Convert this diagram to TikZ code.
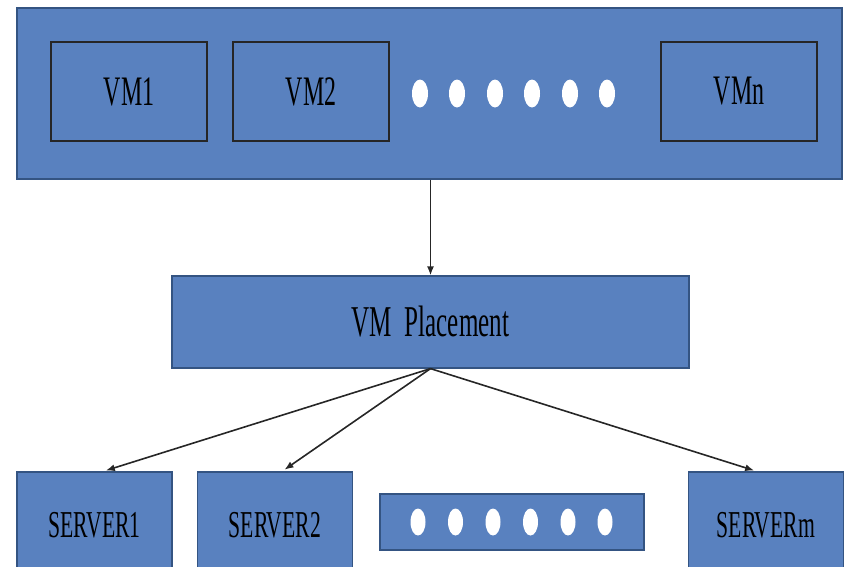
\documentclass[tikz,border=0pt]{standalone}
\usepackage{fontspec}
\setmainfont{Liberation Serif}[FakeStretch=0.57]
\usepackage{tikz}
\usetikzlibrary{arrows.meta}
\definecolor{boxblue}{RGB}{89,129,191}
\definecolor{edgeblue}{RGB}{52,84,130}

\begin{document}
\begin{tikzpicture}[x=1pt, y=-1pt,
  panel/.style={rectangle, draw=edgeblue, line width=1.2pt, fill=boxblue, inner sep=0pt},
  vmbox/.style={rectangle, draw=black!85, line width=1.6pt, minimum width=156pt,
                minimum height=99pt, font=\fontsize{42}{46}\selectfont},
  server/.style={panel, minimum width=155pt, minimum height=106pt,
                 font=\fontsize{38}{42}\selectfont},
  link/.style={-{Latex[length=9pt,width=7pt]}, line width=1.6pt, black!85}]
\useasboundingbox (0,0) rectangle (846,566);

% VM pool
\node[panel, minimum width=825pt, minimum height=171pt] (vms) at (429.5,93.5) {};
\node[vmbox] (vm1) at (129,91.5) {VM1};
\node[vmbox] (vm2) at (311,91.5) {VM2};
\node[vmbox] (vmn) at (739,91.5) {VMn};
\foreach \x in {420,457,495,532,570,607}
  \fill[white] (\x,93.5) ellipse [x radius=8pt, y radius=14pt];

% Placement
\node[panel, minimum width=517pt, minimum height=92pt,
      font=\fontsize{44}{48}\selectfont] (place) at (430.5,322) {VM\ \ Placement};

% Servers
\node[server] (srv1) at (94.5,525) {SERVER1};
\node[server] (srv2) at (275,525) {SERVER2};
\node[panel, minimum width=264pt, minimum height=56pt] (more) at (512,522) {};
\foreach \x in {418,455.5,493,530.5,568,605}
  \fill[white] (\x,522) ellipse [x radius=7.5pt, y radius=13.5pt];
\node[server] (srvm) at (766,525) {SERVERm};

% Arrows
\draw[link] (vms.south -| place.north) -- (place.north);
\draw[link, shorten >=3pt] (place.south) -- ([xshift=8.5pt]srv1.north);
\draw[link, shorten >=3pt] (place.south) -- ([xshift=7pt]srv2.north);
\draw[link, shorten >=3pt] (place.south) -- ([xshift=-9pt]srvm.north);

\end{tikzpicture}
\end{document}
